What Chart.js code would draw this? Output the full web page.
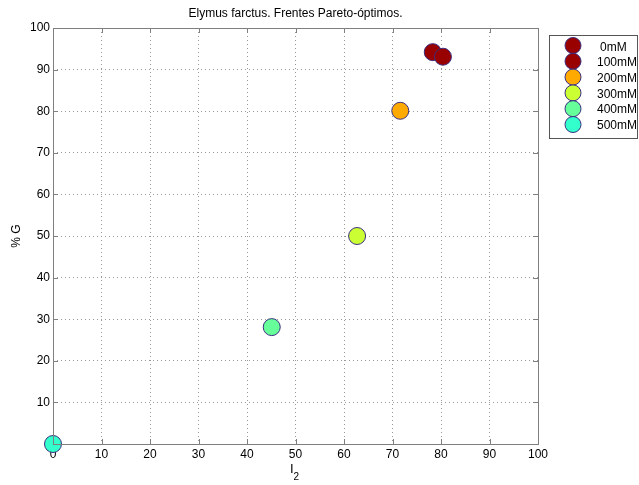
<!DOCTYPE html>
<html>
<head>
<meta charset="utf-8">
<script src="https://cdn.jsdelivr.net/npm/chart.js@4.4.1/dist/chart.umd.min.js"></script>
<style>
  html, body { margin: 0; padding: 0; background: #fff; }
  #wrap { width: 639px; height: 485px; }
</style>
</head>
<body>
<div id="wrap"><canvas id="c" width="639" height="485"></canvas></div>
<script>
/* ===== DATA ===== */
const labels = ['0mM', '100mM', '200mM', '300mM', '400mM', '500mM'];
const xValues = [78.3, 80.4, 71.6, 62.7, 45.1, 0];
const yValues = [94.2, 93.1, 80.1, 50.0, 28.1, 0];
const colors = ['#990000', '#990000', '#ffaa00', '#ccff33', '#66ff99', '#33ffcc'];
const xTicks = [0, 10, 20, 30, 40, 50, 60, 70, 80, 90, 100];
const yTicks = [10, 20, 30, 40, 50, 60, 70, 80, 90, 100];

const FONT = "'Liberation Sans', Arial, sans-serif";
const EDGE = '#3b2f80';

/* ===== FRAME, TITLE, X LABEL AND LEGEND ===== */
const framePlugin = {
  id: 'frame',
  afterDraw(chart) {
    const { ctx, chartArea: a } = chart;
    ctx.save();
    // box
    ctx.strokeStyle = '#7f7f7f';
    ctx.lineWidth = 1;
    ctx.strokeRect(a.left + 0.5, a.top + 0.5, a.right - a.left, a.bottom - a.top);
    // inward tick marks
    const xs = chart.scales.x, ys = chart.scales.y;
    ctx.beginPath();
    xTicks.forEach(v => {
      const px = Math.round(xs.getPixelForValue(v)) + 0.5;
      ctx.moveTo(px, a.bottom); ctx.lineTo(px, a.bottom - 5);
      ctx.moveTo(px, a.top); ctx.lineTo(px, a.top + 5);
    });
    yTicks.forEach(v => {
      const py = Math.round(ys.getPixelForValue(v)) + 0.5;
      ctx.moveTo(a.left, py); ctx.lineTo(a.left + 5, py);
      ctx.moveTo(a.right, py); ctx.lineTo(a.right - 5, py);
    });
    ctx.stroke();
    // title
    ctx.fillStyle = '#000';
    ctx.font = '12px ' + FONT;
    ctx.textAlign = 'center';
    ctx.textBaseline = 'middle';
    ctx.fillText('Elymus farctus. Frentes Pareto-óptimos.', (a.left + a.right) / 2, 14);
    // x label: I with subscript 2
    ctx.textAlign = 'left';
    ctx.font = '13px ' + FONT;
    ctx.fillText('I', 290, 469);
    ctx.font = '10px ' + FONT;
    ctx.fillText('2', 293.5, 477);
    // legend
    const lx = 549, ly = 35, lw = 89, lh = 103;
    ctx.fillStyle = '#fff';
    ctx.fillRect(lx, ly, lw, lh);
    ctx.strokeStyle = '#555';
    ctx.strokeRect(lx + 0.5, ly + 0.5, lw - 1, lh);
    ctx.font = '12px ' + FONT;
    labels.forEach((lab, i) => {
      ctx.beginPath();
      ctx.arc(573, 45.5 + i * 15.8, 8, 0, Math.PI * 2);
      ctx.fillStyle = colors[i];
      ctx.fill();
      ctx.strokeStyle = EDGE;
      ctx.stroke();
      ctx.fillStyle = '#000';
      ctx.fillText(lab, i === 0 ? 600 : 597, 47.5 + i * 15.6);
    });
    ctx.restore();
  }
};

/* ===== SCATTER ===== */
new Chart(document.getElementById('c'), {
  type: 'scatter',
  data: {
    datasets: labels.map((lab, i) => ({
      label: lab,
      data: [{ x: xValues[i], y: yValues[i] }],
      backgroundColor: colors[i],
      borderColor: EDGE,
      borderWidth: 1,
      pointRadius: 8.5,
      clip: false,
      order: labels.length - i
    }))
  },
  options: {
    responsive: false,
    animation: false,
    layout: { padding: { top: 28, right: 101, left: 0, bottom: 0 } },
    scales: {
      x: {
        min: 0, max: 100,
        afterBuildTicks: s => { s.ticks = xTicks.map(v => ({ value: v })); },
        afterFit: s => { s.height = 41; },
        ticks: { color: '#000', font: { family: FONT, size: 12 }, padding: 3 },
        grid: { color: '#999', lineWidth: 1, drawTicks: false },
        border: { display: false, dash: [1, 3] }
      },
      y: {
        min: 0, max: 100,
        afterBuildTicks: s => { s.ticks = yTicks.map(v => ({ value: v })); },
        afterFit: s => { s.width = 53; },
        ticks: { color: '#000', font: { family: FONT, size: 12 }, padding: 3 },
        grid: { color: '#999', lineWidth: 1, drawTicks: false },
        border: { display: false, dash: [1, 3] },
        title: { display: true, text: '% G', color: '#000', font: { family: FONT, size: 12 }, padding: { top: 9, bottom: 0 } }
      }
    },
    plugins: {
      legend: { display: false },
      tooltip: { enabled: false }
    }
  },
  plugins: [framePlugin]
});
</script>
</body>
</html>
